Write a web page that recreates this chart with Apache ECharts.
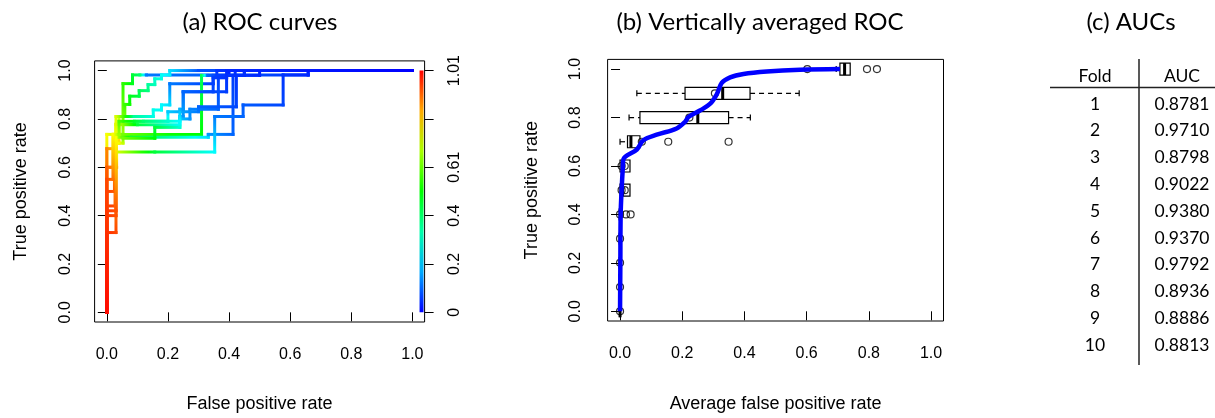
<!DOCTYPE html>
<html><head><meta charset="utf-8">
<script src="https://cdn.jsdelivr.net/npm/echarts@6/dist/echarts.min.js"></script>
<style>html,body{margin:0;padding:0;background:#fff}#c{width:1215px;height:418px}</style>
</head><body><div id="c"></div>
<script>
// ---------- Panel (a): per-fold ROC curves, points [fpr, tpr, cutoff] ----------
const roc1 = [[0,0,1.0],[0,0.60,0.93],[0.021,0.60,0.88],[0.021,0.736,0.76],[0.053,0.736,0.66],[0.053,0.946,0.55],[0.084,0.946,0.48],[0.084,0.982,0.45],[0.108,0.982,0.4],[0.13,0.982,0.12],[0.659,0.982,0.05],[0.659,1,0.04],[1,1,0]];
const roc2 = [[0,0,1.0],[0,0.44,0.96],[0.027,0.44,0.93],[0.027,0.70,0.86],[0.04,0.70,0.8],[0.04,0.81,0.7],[0.059,0.81,0.62],[0.059,0.86,0.56],[0.075,0.86,0.52],[0.075,0.894,0.48],[0.106,0.894,0.44],[0.106,0.917,0.42],[0.135,0.917,0.38],[0.135,0.942,0.35],[0.157,0.942,0.32],[0.157,0.966,0.3],[0.179,0.966,0.28],[0.179,0.982,0.26],[0.206,0.982,0.24],[0.206,1,0.22],[0.3,1,0.08],[1,1,0]];
const roc3 = [[0,0,1.0],[0,0.33,0.97],[0.03,0.33,0.94],[0.03,0.81,0.72],[0.09,0.81,0.35],[0.152,0.81,0.28],[0.152,0.837,0.27],[0.179,0.837,0.26],[0.179,0.858,0.25],[0.206,0.858,0.22],[0.206,0.946,0.12],[0.348,0.946,0.06],[0.348,0.98,0.05],[0.4,0.98,0.04],[0.4,1,0.03],[1,1,0]];
const roc4 = [[0,0,1.0],[0,0.40,0.96],[0.03,0.40,0.93],[0.03,0.776,0.75],[0.1,0.776,0.45],[0.239,0.776,0.25],[0.239,0.81,0.2],[0.25,0.81,0.15],[0.25,0.912,0.1],[0.392,0.912,0.06],[0.392,0.98,0.05],[0.45,0.98,0.04],[0.45,1,0.03],[1,1,0]];
const roc5 = [[0,0,1.0],[0,0.736,0.75],[0.053,0.736,0.62],[0.2,0.736,0.52],[0.31,0.736,0.5],[0.31,0.98,0.42],[0.33,0.98,0.1],[0.36,0.98,0.06],[0.36,1,0.05],[1,1,0]];
const roc6 = [[0,0,1.0],[0,0.677,0.88],[0.03,0.677,0.8],[0.03,0.724,0.7],[0.08,0.724,0.45],[0.332,0.724,0.22],[0.332,0.736,0.15],[0.413,0.736,0.1],[0.413,0.98,0.06],[0.45,0.98,0.05],[0.45,1,0.04],[1,1,0]];
const roc7 = [[0,0,1.0],[0,0.60,0.92],[0.032,0.60,0.85],[0.032,0.663,0.72],[0.157,0.663,0.45],[0.353,0.663,0.25],[0.353,0.81,0.12],[0.446,0.81,0.1],[0.446,0.858,0.09],[0.577,0.858,0.07],[0.577,0.982,0.05],[0.659,0.982,0.04],[0.659,1,0.03],[1,1,0]];
const roc8 = [[0,0,1.0],[0,0.5,0.95],[0.025,0.5,0.92],[0.025,0.70,0.8],[0.053,0.70,0.7],[0.053,0.72,0.62],[0.157,0.72,0.5],[0.157,0.765,0.45],[0.239,0.765,0.3],[0.239,0.80,0.2],[0.272,0.80,0.15],[0.272,0.84,0.13],[0.365,0.84,0.1],[0.365,0.98,0.06],[0.42,0.98,0.05],[0.42,1,0.04],[1,1,0]];
const roc9 = [[0,0,1.0],[0,0.42,0.96],[0.03,0.42,0.93],[0.03,0.778,0.72],[0.09,0.778,0.5],[0.09,0.79,0.42],[0.2,0.79,0.3],[0.2,0.83,0.2],[0.3,0.83,0.12],[0.3,0.85,0.1],[0.424,0.85,0.07],[0.424,0.98,0.05],[0.5,0.98,0.04],[0.5,1,0.03],[1,1,0]];
const roc10 = [[0,0,1.0],[0,0.55,0.94],[0.02,0.55,0.9],[0.02,0.736,0.76],[0.04,0.736,0.66],[0.04,0.79,0.58],[0.12,0.79,0.4],[0.239,0.79,0.25],[0.239,0.84,0.18],[0.25,0.84,0.15],[0.25,0.912,0.1],[0.348,0.912,0.07],[0.348,0.97,0.06],[0.392,0.97,0.05],[0.392,1,0.04],[1,1,0]];
const rocCurves = [roc1, roc2, roc3, roc4, roc5, roc6, roc7, roc8, roc9, roc10];

const axisTicks = [0, 0.2, 0.4, 0.6, 0.8, 1.0];
const cutoffRange = [0, 1.01];
const cutoffTicks = [0, 0.202, 0.404, 0.606, 0.808, 1.01];
const cutoffLabels = ['0', '0.2', '0.4', '0.61', '', '1.01'];

// ---------- Panel (b): vertically averaged ROC ----------
const tprLevels = [0, 0.1, 0.2, 0.3, 0.4, 0.5, 0.6, 0.7, 0.8, 0.9, 1.0];
const boxLow    = [0, 0, 0, 0, 0, 0,     0,     0,     0.029, 0.054, 0.695];
const boxQ1     = [0, 0, 0, 0, 0, 0,     0,     0.024, 0.064, 0.209, 0.707];
const boxMed    = [0, 0, 0, 0, 0, 0.008, 0.008, 0.035, 0.25,  0.33,  0.722];
const boxQ3     = [0, 0, 0, 0, 0, 0.032, 0.032, 0.064, 0.349, 0.418, 0.74];
const boxHigh   = [0, 0, 0, 0, 0, 0.032, 0.032, 0.064, 0.419, 0.576, 0.74];
const avgFpr = [0, 0.001, 0.002, 0.005, 0.009, 0.011, 0.054, 0.075, 0.118, 0.182, 0.209, 0.22, 0.257, 0.289, 0.311, 0.327, 0.354, 0.397, 0.472, 0.579, 0.707];
const avgTpr = [0, 0.2, 0.40, 0.50, 0.594, 0.628, 0.668, 0.706, 0.729, 0.755, 0.782, 0.802, 0.829, 0.856, 0.896, 0.943, 0.966, 0.98, 0.99, 0.997, 1.0];
const pointFpr = [0, 0, 0, 0, 0, 0.019, 0.034, 0.005, 0.015, 0.005, 0.015, 0.07, 0.155, 0.349, 0.223, 0.305, 0.602, 0.794, 0.826];
const pointTpr = [0, 0.1, 0.2, 0.3, 0.4, 0.4, 0.4, 0.5, 0.5, 0.6, 0.6, 0.7, 0.7, 0.7, 0.8, 0.9, 1.0, 1.0, 1.0];

// ---------- Panel (c): AUC table ----------
const folds = ['1', '2', '3', '4', '5', '6', '7', '8', '9', '10'];
const aucs = [0.8781, 0.9710, 0.8798, 0.9022, 0.9380, 0.9370, 0.9792, 0.8936, 0.8886, 0.8813];

// ---------- helpers ----------
function cutColor(c) {
  let t = (c - cutoffRange[0]) / (cutoffRange[1] - cutoffRange[0]);
  t = Math.max(0, Math.min(1, t));
  const h = 240 * (1 - t);
  return 'hsl(' + h.toFixed(1) + ',100%,50%)';
}
function stops(c1, c2) {
  const s = [];
  for (let k = 0; k <= 6; k++) { const t = k / 6; s.push({offset: t, color: cutColor(c1 + (c2 - c1) * t)}); }
  return s;
}
const segments = [];
rocCurves.forEach(function (cv) {
  for (let i = 0; i < cv.length - 1; i++) {
    segments.push([cv[i][0], cv[i][1], cv[i + 1][0], cv[i + 1][1], cv[i][2], cv[i + 1][2]]);
  }
});
const boxData = tprLevels.map((y, i) => [y, boxLow[i], boxQ1[i], boxMed[i], boxQ3[i], boxHigh[i]]);
const avgData = avgFpr.map((x, i) => [x, avgTpr[i]]);
const pointData = pointFpr.map((x, i) => [x, pointTpr[i]]);
const tableData = folds.map((f, i) => [i]);

const AX = 'Liberation Sans, Arial, sans-serif';
const TF = 'Lato, sans-serif';
const tickLab = {color: '#000', fontSize: 16, fontFamily: AX};
const nameStyle = {color: '#000', fontSize: 18, fontFamily: AX};

function xAx(grid, name, gap) {
  return {
    gridIndex: grid, type: 'value', min: -0.04, max: 1.04,
    axisLine: {show: false}, splitLine: {show: false},
    axisTick: {show: true, inside: false, length: 9, customValues: axisTicks, lineStyle: {color: '#000', width: 1}},
    axisLabel: Object.assign({customValues: axisTicks, margin: 25, formatter: v => v.toFixed(1)}, tickLab),
    name: name, nameLocation: 'middle', nameGap: gap, nameTextStyle: nameStyle
  };
}
function yAx(grid, name, gap, margin) {
  return {
    gridIndex: grid, type: 'value', min: -0.04, max: 1.04, position: 'left',
    axisLine: {show: false}, splitLine: {show: false},
    axisTick: {show: true, inside: false, length: 9, customValues: axisTicks, lineStyle: {color: '#000', width: 1}},
    axisLabel: Object.assign({customValues: axisTicks, margin: margin, rotate: 90, formatter: v => v.toFixed(1)}, tickLab),
    name: name, nameLocation: 'middle', nameGap: gap, nameTextStyle: nameStyle
  };
}

const chart = echarts.init(document.getElementById('c'), null, {renderer: 'canvas'});
chart.setOption({
  animation: false,
  backgroundColor: '#fff',
  grid: [
    {left: 94.6, top: 60.9, width: 330, height: 264.9, show: true, borderColor: '#000', borderWidth: 1, backgroundColor: 'transparent'},
    {left: 607.6, top: 59.4, width: 335.9, height: 268.3, show: true, borderColor: '#000', borderWidth: 1, backgroundColor: 'transparent'},
    {left: 1045, top: 90.6, width: 170, height: 268}
  ],
  xAxis: [
    xAx(0, 'False positive rate', 73),
    xAx(1, 'Average false positive rate', 74),
    {gridIndex: 2, type: 'value', min: 0, max: 1, show: false}
  ],
  yAxis: [
    yAx(0, 'True positive rate', 65, 21),
    {
      gridIndex: 0, type: 'value', position: 'right',
      min: -0.04 * cutoffRange[1], max: 1.04 * cutoffRange[1],
      axisLine: {show: false}, splitLine: {show: false},
      axisTick: {show: true, inside: false, length: 9, customValues: cutoffTicks, lineStyle: {color: '#000', width: 1}},
      axisLabel: Object.assign({customValues: cutoffTicks, margin: 22, rotate: 90,
        formatter: function (v) {
          let best = 0, bd = 1e9;
          cutoffTicks.forEach((t, i) => { const d = Math.abs(t - v); if (d < bd) { bd = d; best = i; } });
          return cutoffLabels[best];
        }}, tickLab)
    },
    yAx(1, 'True positive rate', 67, 24),
    {gridIndex: 2, type: 'category', data: folds, inverse: true, show: false}
  ],
  series: [
    {
      type: 'custom', name: 'ROC folds', xAxisIndex: 0, yAxisIndex: 0,
      data: segments, encode: {x: [0, 2], y: [1, 3]},
      renderItem: function (params, api) {
        const p1 = api.coord([api.value(0), api.value(1)]);
        const p2 = api.coord([api.value(2), api.value(3)]);
        const c1 = api.value(4), c2 = api.value(5);
        let stroke;
        if (Math.abs(p1[0] - p2[0]) < 0.5 && Math.abs(p1[1] - p2[1]) < 0.5) stroke = cutColor(c1);
        else stroke = {type: 'linear', x: p1[0], y: p1[1], x2: p2[0], y2: p2[1], global: true, colorStops: stops(c1, c2)};
        return {type: 'line', shape: {x1: p1[0], y1: p1[1], x2: p2[0], y2: p2[1]},
          style: {stroke: stroke, lineWidth: 3, lineCap: 'square', fill: null}};
      }
    },
    {
      type: 'custom', name: 'colorbar', xAxisIndex: 0, yAxisIndex: 1,
      data: [[1.03, cutoffRange[0], cutoffRange[1]]], encode: {x: 0, y: [1, 2]},
      renderItem: function (params, api) {
        const top = api.coord([api.value(0), api.value(2)]);
        const bot = api.coord([api.value(0), api.value(1)]);
        return {type: 'rect', shape: {x: top[0] - 2, y: top[1], width: 4, height: bot[1] - top[1]},
          style: {fill: {type: 'linear', x: 0, y: 0, x2: 0, y2: 1, colorStops: stops(cutoffRange[1], cutoffRange[0])}}};
      }
    },
    {
      type: 'custom', name: 'boxes', xAxisIndex: 1, yAxisIndex: 2,
      data: boxData, encode: {y: 0, x: [1, 2, 3, 4, 5]},
      renderItem: function (params, api) {
        const y = api.value(0);
        const pLo = api.coord([api.value(1), y]), pQ1 = api.coord([api.value(2), y]), pMd = api.coord([api.value(3), y]);
        const pQ3 = api.coord([api.value(4), y]), pHi = api.coord([api.value(5), y]);
        const cy = pLo[1], hb = 6, hc = 3;
        const ch = [];
        const dash = {stroke: '#000', lineWidth: 1.2, lineDash: [5, 4], fill: null};
        const solid = {stroke: '#000', lineWidth: 1.2, fill: null};
        if (pQ1[0] - pLo[0] > 0.5) {
          ch.push({type: 'line', shape: {x1: pLo[0], y1: cy, x2: pQ1[0], y2: cy}, style: dash});
        }
        if (pQ1[0] - pLo[0] > 0.5 || api.value(1) < api.value(2)) {
          ch.push({type: 'line', shape: {x1: pLo[0], y1: cy - hc, x2: pLo[0], y2: cy + hc}, style: solid});
        }
        if (pHi[0] - pQ3[0] > 0.5) {
          ch.push({type: 'line', shape: {x1: pQ3[0], y1: cy, x2: pHi[0], y2: cy}, style: dash});
          ch.push({type: 'line', shape: {x1: pHi[0], y1: cy - hc, x2: pHi[0], y2: cy + hc}, style: solid});
        }
        ch.push({type: 'rect', shape: {x: pQ1[0], y: cy - hb, width: pQ3[0] - pQ1[0], height: 2 * hb},
          style: {fill: '#fff', stroke: '#000', lineWidth: 1.2}});
        ch.push({type: 'line', shape: {x1: pMd[0], y1: cy - hb, x2: pMd[0], y2: cy + hb}, style: {stroke: '#000', lineWidth: 3}});
        return {type: 'group', children: ch};
      }
    },
    {
      type: 'line', name: 'average', xAxisIndex: 1, yAxisIndex: 2,
      data: avgData, smooth: 0.35, showSymbol: false, symbol: 'none',
      lineStyle: {color: '#0000ff', width: 4.5}
    },
    {
      type: 'scatter', name: 'points', xAxisIndex: 1, yAxisIndex: 2,
      data: pointData, symbol: 'circle', symbolSize: 7,
      itemStyle: {color: 'rgba(0,0,0,0)', borderColor: '#000', borderWidth: 1.2}
    },
    {
      type: 'custom', name: 'table', xAxisIndex: 2, yAxisIndex: 3,
      data: tableData, encode: {y: 0},
      renderItem: function (params, api) {
        const row = api.value(0);
        const p1 = api.coord([0.294, row]);
        const p2 = api.coord([0.806, row]);
        const st = (t) => ({text: t, font: '17.5px ' + TF, fill: '#000', align: 'center', verticalAlign: 'middle', textAlign: 'center', textVerticalAlign: 'middle'});
        return {type: 'group', children: [
          {type: 'text', x: p1[0], y: p1[1], style: st(folds[params.dataIndex])},
          {type: 'text', x: p2[0], y: p2[1], style: st(aucs[params.dataIndex].toFixed(4))}
        ]};
      }
    }
  ],
  graphic: [
    {type: 'text', x: 260, y: 22, style: {text: '(a) ROC curves', font: '24px ' + TF, fill: '#000', align: 'center', verticalAlign: 'middle', textAlign: 'center', textVerticalAlign: 'middle'}},
    {type: 'text', x: 760, y: 22, style: {text: '(b) Vertically averaged ROC', font: '24px ' + TF, fill: '#000', align: 'center', verticalAlign: 'middle', textAlign: 'center', textVerticalAlign: 'middle'}},
    {type: 'text', x: 1131, y: 22, style: {text: '(c) AUCs', font: '24px ' + TF, fill: '#000', align: 'center', verticalAlign: 'middle', textAlign: 'center', textVerticalAlign: 'middle'}},
    {type: 'text', x: 1095, y: 76.7, style: {text: 'Fold', font: '17.5px ' + TF, fill: '#000', align: 'center', verticalAlign: 'middle', textAlign: 'center', textVerticalAlign: 'middle'}},
    {type: 'text', x: 1182, y: 76.7, style: {text: 'AUC', font: '17.5px ' + TF, fill: '#000', align: 'center', verticalAlign: 'middle', textAlign: 'center', textVerticalAlign: 'middle'}},
    {type: 'line', shape: {x1: 1050, y1: 87.5, x2: 1215, y2: 87.5}, style: {stroke: '#222', lineWidth: 1.5}},
    {type: 'line', shape: {x1: 1139, y1: 59, x2: 1139, y2: 365}, style: {stroke: '#222', lineWidth: 1.5}}
  ]
});
</script>
</body></html>
